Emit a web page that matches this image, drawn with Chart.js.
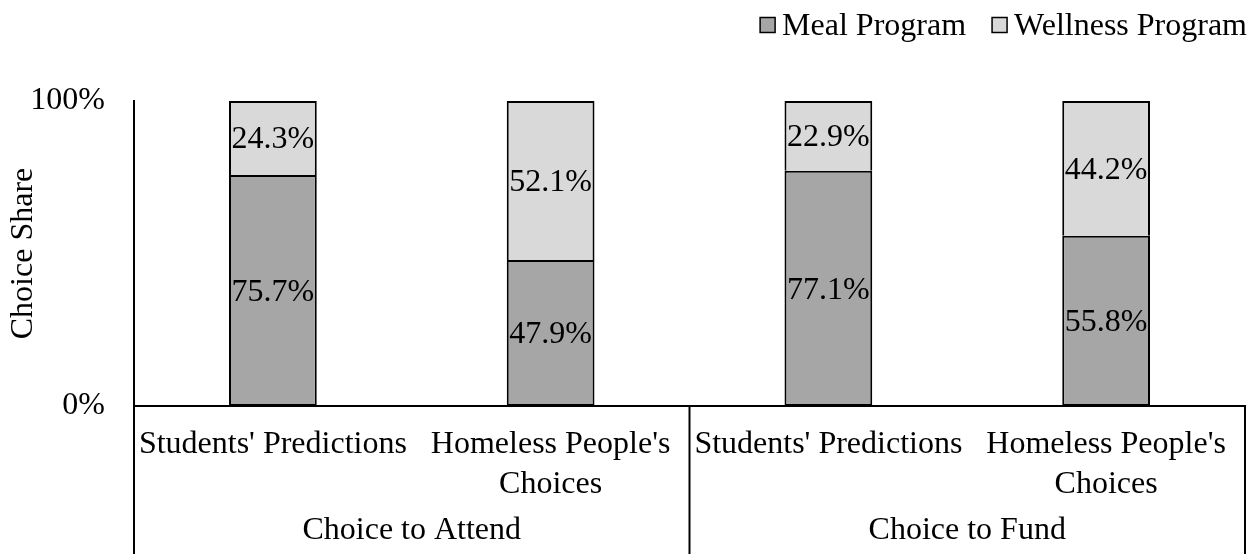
<!DOCTYPE html>
<html>
<head>
<meta charset="utf-8">
<script src="https://cdn.jsdelivr.net/npm/chart.js@4"></script>
<style>
  html, body { margin: 0; padding: 0; background: #fff; }
  #wrap { width: 1260px; height: 554px; }
</style>
</head>
<body>
<div id="wrap"><canvas id="grafico"></canvas></div>
<script>
// categorias y valores (porcentaje de elección)
var categorias = [["Students' Predictions"], ["Homeless People's", "Choices"], ["Students' Predictions"], ["Homeless People's", "Choices"]];
var grupos = ["Choice to Attend", "Choice to Fund"];
var tamGrupo = [2, 2];
var comida = [75.7, 47.9, 77.1, 55.8];
var bienestar = [24.3, 52.1, 22.9, 44.2];
var series = ["Meal Program", "Wellness Program"];
var ticksY = [0, 100];

var fuente = "'Liberation Serif', 'Times New Roman', serif";
var negro = '#000';

// etiquetas de valor centradas en cada segmento
var etiquetasValor = {
    id: 'etiquetasValor',
    afterDatasetsDraw: function (chart) {
        var ctx = chart.ctx;
        ctx.save();
        ctx.font = '32px ' + fuente;
        ctx.fillStyle = negro;
        ctx.textAlign = 'center';
        ctx.textBaseline = 'middle';
        chart.data.datasets.forEach(function (ds, i) {
            chart.getDatasetMeta(i).data.forEach(function (bar, j) {
                ctx.fillText(ds.data[j].toFixed(1) + '%', bar.x, (bar.y + bar.base) / 2 + 2);
            });
        });
        ctx.restore();
    }
};

// eje de categorías en dos niveles: líneas divisorias y nombre de grupo
var ejeGrupos = {
    id: 'ejeGrupos',
    afterDraw: function (chart) {
        var ctx = chart.ctx;
        var x = chart.scales.x;
        var area = chart.chartArea;
        var fondo = chart.height;
        var bordes = [x.left];
        var idx = 0;
        tamGrupo.forEach(function (n) {
            idx += n;
            if (idx < categorias.length) {
                bordes.push((x.getPixelForValue(idx - 1) + x.getPixelForValue(idx)) / 2);
            } else {
                bordes.push(x.right);
            }
        });
        ctx.save();
        ctx.strokeStyle = negro;
        ctx.lineWidth = 2;
        bordes.forEach(function (bx) {
            ctx.beginPath();
            ctx.moveTo(bx, area.bottom);
            ctx.lineTo(bx, fondo);
            ctx.stroke();
        });
        ctx.font = '32px ' + fuente;
        ctx.fillStyle = negro;
        ctx.textAlign = 'center';
        ctx.textBaseline = 'middle';
        grupos.forEach(function (g, k) {
            ctx.fillText(g, (bordes[k] + bordes[k + 1]) / 2, 531);
        });
        ctx.restore();
    }
};

// leyenda arriba a la derecha
var leyenda = {
    id: 'leyenda',
    afterDraw: function (chart) {
        var ctx = chart.ctx;
        ctx.save();
        ctx.font = '32px ' + fuente;
        ctx.textBaseline = 'middle';
        ctx.textAlign = 'left';
        var caja = 15, hueco = 7, sep = 26, y = 25;
        var xd = 1247;
        for (var i = chart.data.datasets.length - 1; i >= 0; i--) {
            var ds = chart.data.datasets[i];
            var w = ctx.measureText(ds.label).width;
            var xt = xd - w;
            var xc = xt - hueco - caja;
            ctx.fillStyle = ds.backgroundColor;
            ctx.fillRect(xc, y - caja / 2, caja, caja);
            ctx.strokeStyle = negro;
            ctx.lineWidth = 1.5;
            ctx.strokeRect(xc, y - caja / 2, caja, caja);
            ctx.fillStyle = negro;
            ctx.fillText(ds.label, xt, y + 2);
            xd = xc - sep;
        }
        ctx.restore();
    }
};

var ctx = document.getElementById('grafico').getContext('2d');
window.myChart = new Chart(ctx, {
    type: 'bar',
    data: {
        labels: categorias,
        datasets: [{
            label: series[0],
            data: comida,
            backgroundColor: '#a6a6a6',
            borderColor: negro,
            borderWidth: 2,
            borderSkipped: false,
            categoryPercentage: 1,
            barPercentage: 0.316
        }, {
            label: series[1],
            data: bienestar,
            backgroundColor: '#d9d9d9',
            borderColor: negro,
            borderWidth: 2,
            borderSkipped: 'bottom', // el borde superior del segmento de abajo ya separa
            categoryPercentage: 1,
            barPercentage: 0.316
        }]
    },
    options: {
        responsive: true,
        maintainAspectRatio: false,
        animation: false,
        layout: { padding: { top: 101, right: 15, bottom: 0, left: 0 } },
        plugins: {
            legend: { display: false },
            tooltip: { enabled: false }
        },
        scales: {
            x: {
                stacked: true,
                grid: { display: false, drawTicks: false },
                border: { display: true, color: negro, width: 2 },
                ticks: {
                    color: negro,
                    font: { family: fuente, size: 32, lineHeight: 1.25 },
                    padding: 19,
                    maxRotation: 0,
                    autoSkip: false
                },
                afterFit: function (s) { s.height = 148; }
            },
            y: {
                stacked: true,
                min: 0,
                max: 100,
                afterBuildTicks: function (s) {
                    s.ticks = ticksY.map(function (v) { return { value: v }; });
                },
                grid: { display: false, drawTicks: false },
                border: { display: true, color: negro, width: 2 },
                ticks: {
                    color: negro,
                    font: { family: fuente, size: 32 },
                    padding: 29,
                    callback: function (v) { return v + '%'; }
                },
                title: {
                    display: true,
                    text: 'Choice Share',
                    color: negro,
                    font: { family: fuente, size: 32, lineHeight: 1.2 },
                    padding: { top: 4, bottom: 0 }
                },
                afterFit: function (s) { s.width = 134; }
            }
        }
    },
    plugins: [etiquetasValor, ejeGrupos, leyenda]
});
</script>
</body>
</html>
